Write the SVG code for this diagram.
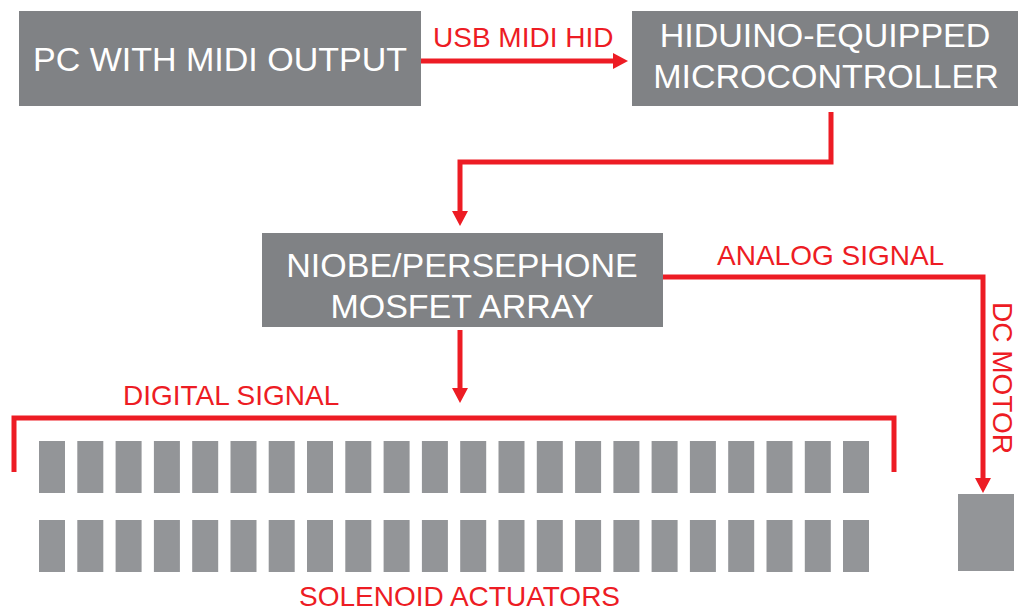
<svg xmlns="http://www.w3.org/2000/svg" width="1022" height="610" viewBox="0 0 1022 610">
<defs>
<marker id="arrow" viewBox="0 0 15 16" refX="3" refY="8" markerWidth="15" markerHeight="16" markerUnits="userSpaceOnUse" orient="auto">
<path d="M0,0 L15,8 L0,16 Z" fill="#ED1C24"/>
</marker>
<style>
.box{fill:#808285}
.sol{fill:#939598}
.bt{fill:#fff;font-family:"Liberation Sans",Arial,sans-serif;font-size:34px;text-anchor:middle}
.lbl{fill:#ED1C24;font-family:"Liberation Sans",Arial,sans-serif;font-size:28px}
.con{fill:none;stroke:#ED1C24;stroke-width:5;stroke-linejoin:miter}
</style>
</defs>
<rect width="1022" height="610" fill="#fff"/>
<g id="pc">
<rect class="box" x="19" y="11" width="402" height="95"/>
<text class="bt" x="220" y="71">PC WITH MIDI OUTPUT</text>
</g>
<g id="hiduino">
<rect class="box" x="632" y="11" width="386" height="95"/>
<text class="bt" x="825" y="47">HIDUINO-EQUIPPED</text>
<text class="bt" x="826" y="88">MICROCONTROLLER</text>
</g>
<g id="mosfet">
<rect class="box" x="262" y="233" width="401" height="94"/>
<text class="bt" x="462" y="277">NIOBE/PERSEPHONE</text>
<text class="bt" x="462" y="318">MOSFET ARRAY</text>
</g>
<g id="dcmotor">
<rect class="sol" x="958" y="494" width="56" height="77"/>
<text class="lbl" transform="translate(993,302) rotate(90)">DC MOTOR</text>
</g>
<g id="solenoids">
<g id="row1">
<rect class="sol" x="39" y="441" width="26" height="52"/>
<rect class="sol" x="77.3" y="441" width="26" height="52"/>
<rect class="sol" x="115.6" y="441" width="26" height="52"/>
<rect class="sol" x="153.9" y="441" width="26" height="52"/>
<rect class="sol" x="192.2" y="441" width="26" height="52"/>
<rect class="sol" x="230.5" y="441" width="26" height="52"/>
<rect class="sol" x="268.7" y="441" width="26" height="52"/>
<rect class="sol" x="307" y="441" width="26" height="52"/>
<rect class="sol" x="345.3" y="441" width="26" height="52"/>
<rect class="sol" x="383.6" y="441" width="26" height="52"/>
<rect class="sol" x="421.9" y="441" width="26" height="52"/>
<rect class="sol" x="460.2" y="441" width="26" height="52"/>
<rect class="sol" x="498.5" y="441" width="26" height="52"/>
<rect class="sol" x="536.8" y="441" width="26" height="52"/>
<rect class="sol" x="575.1" y="441" width="26" height="52"/>
<rect class="sol" x="613.4" y="441" width="26" height="52"/>
<rect class="sol" x="651.6" y="441" width="26" height="52"/>
<rect class="sol" x="689.9" y="441" width="26" height="52"/>
<rect class="sol" x="728.2" y="441" width="26" height="52"/>
<rect class="sol" x="766.5" y="441" width="26" height="52"/>
<rect class="sol" x="804.8" y="441" width="26" height="52"/>
<rect class="sol" x="843" y="441" width="26" height="52"/>
</g>
<g id="row2">
<rect class="sol" x="39" y="520" width="26" height="52"/>
<rect class="sol" x="77.3" y="520" width="26" height="52"/>
<rect class="sol" x="115.6" y="520" width="26" height="52"/>
<rect class="sol" x="153.9" y="520" width="26" height="52"/>
<rect class="sol" x="192.2" y="520" width="26" height="52"/>
<rect class="sol" x="230.5" y="520" width="26" height="52"/>
<rect class="sol" x="268.7" y="520" width="26" height="52"/>
<rect class="sol" x="307" y="520" width="26" height="52"/>
<rect class="sol" x="345.3" y="520" width="26" height="52"/>
<rect class="sol" x="383.6" y="520" width="26" height="52"/>
<rect class="sol" x="421.9" y="520" width="26" height="52"/>
<rect class="sol" x="460.2" y="520" width="26" height="52"/>
<rect class="sol" x="498.5" y="520" width="26" height="52"/>
<rect class="sol" x="536.8" y="520" width="26" height="52"/>
<rect class="sol" x="575.1" y="520" width="26" height="52"/>
<rect class="sol" x="613.4" y="520" width="26" height="52"/>
<rect class="sol" x="651.6" y="520" width="26" height="52"/>
<rect class="sol" x="689.9" y="520" width="26" height="52"/>
<rect class="sol" x="728.2" y="520" width="26" height="52"/>
<rect class="sol" x="766.5" y="520" width="26" height="52"/>
<rect class="sol" x="804.8" y="520" width="26" height="52"/>
<rect class="sol" x="843" y="520" width="26" height="52"/>
</g>
<text class="lbl" x="299" y="606">SOLENOID ACTUATORS</text>
</g>
<g id="connectors">
<path class="con" d="M421,61 H616" marker-end="url(#arrow)"/>
<text class="lbl" x="433" y="47" font-size="27">USB MIDI HID</text>
<path class="con" d="M831,112 V162 H460 V214" marker-end="url(#arrow)"/>
<path class="con" d="M460,330 V391" marker-end="url(#arrow)"/>
<path class="con" d="M663,277 H983 V481" marker-end="url(#arrow)"/>
<text class="lbl" x="717" y="265">ANALOG SIGNAL</text>
<path class="con" d="M14,472 V418 H894 V472"/>
<text class="lbl" x="123" y="405">DIGITAL SIGNAL</text>
</g>
</svg>
